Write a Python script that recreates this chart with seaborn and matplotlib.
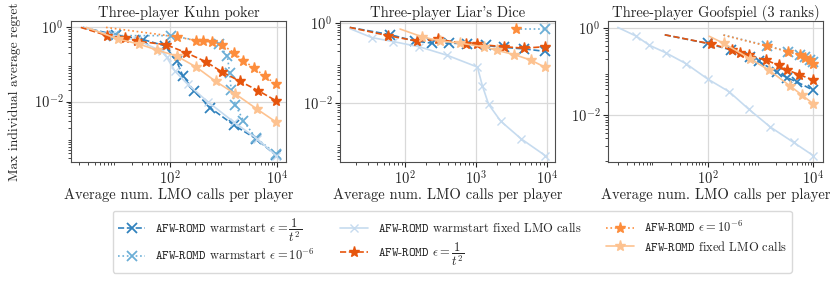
import numpy as np
import matplotlib
matplotlib.use("Agg")
import matplotlib.pyplot as plt
import seaborn as sns

# ---- data ----
titles = ["Three-player Kuhn poker", "Three-player Liar's Dice", "Three-player Goofspiel (3 ranks)"]

# Kuhn poker
kuhn_ws_t2_x = [2.4, 10, 32, 81, 135, 178, 290, 575, 1600, 4100, 9600]
kuhn_ws_t2_y = [1.0, 0.63, 0.47, 0.32, 0.126, 0.048, 0.019, 0.0068, 0.0023, 0.001, 0.00036]
kuhn_ws_e6_x = [2.4, 9.3, 105, 830, 1200, 1320, 1410, 1700, 2400, 4070, 9800]
kuhn_ws_e6_y = [1.0, 0.6, 0.6, 0.35, 0.166, 0.06, 0.021, 0.0081, 0.003, 0.00105, 0.00039]
kuhn_ws_fix_x = [2.4, 7.9, 25, 71, 89, 126, 219, 513, 1585, 4270, 9800]
kuhn_ws_fix_y = [1.0, 0.63, 0.45, 0.23, 0.155, 0.066, 0.029, 0.01, 0.0028, 0.001, 0.00035]
kuhn_t2_x = [2.2, 6.9, 14.5, 24.5, 87, 200, 470, 955, 2090, 4570, 9800]
kuhn_t2_y = [1.0, 0.6, 0.52, 0.43, 0.34, 0.21, 0.12, 0.063, 0.035, 0.0195, 0.0105]
kuhn_e6_x = [6.5, 135, 316, 417, 630, 955, 1585, 2400, 3800, 6000, 9800]
kuhn_e6_y = [1.0, 0.56, 0.44, 0.43, 0.4, 0.34, 0.21, 0.126, 0.081, 0.048, 0.029]
kuhn_fix_x = [2.8, 10.7, 27, 58, 135, 316, 725, 1700, 4270, 9800]
kuhn_fix_y = [1.0, 0.49, 0.355, 0.245, 0.17, 0.085, 0.035, 0.016, 0.0063, 0.0028]

# Liar's dice
dice_ws_t2_x = [16.6, 62, 138, 240, 417, 760, 1380, 2510, 4790, 9300]
dice_ws_t2_y = [0.79, 0.52, 0.36, 0.32, 0.32, 0.31, 0.28, 0.25, 0.23, 0.2]
dice_ws_e6_x = [3630, 9300]
dice_ws_e6_y = [0.74, 0.74]
dice_ws_fix_x = [16.6, 34, 68, 158, 390, 1050, 1230, 1510, 2240, 4370, 9500]
dice_ws_fix_y = [0.74, 0.44, 0.35, 0.26, 0.16, 0.081, 0.028, 0.0095, 0.0036, 0.0013, 0.0005]
dice_t2_x = [16.6, 58, 148, 290, 725, 1050, 2510, 4790, 9300]
dice_t2_y = [0.79, 0.49, 0.36, 0.4, 0.31, 0.3, 0.26, 0.24, 0.26]
dice_e6_x = [3630]
dice_e6_y = [0.74]
dice_fix_x = [85, 174, 316, 600, 1290, 2000, 3470, 6000, 9300]
dice_fix_y = [0.72, 0.46, 0.36, 0.32, 0.26, 0.21, 0.166, 0.12, 0.081]

# Goofspiel
goof_ws_t2_x = [15.5, 100, 275, 645, 930, 2040, 3160, 4900, 10000]
goof_ws_t2_y = [0.71, 0.45, 0.32, 0.224, 0.174, 0.1, 0.074, 0.059, 0.038]
goof_ws_e6_x = [200, 1350, 3390, 5500, 7080, 8710, 10000]
goof_ws_e6_y = [0.7, 0.4, 0.29, 0.25, 0.22, 0.19, 0.165]
goof_ws_fix_x = [2.0, 4.5, 7.9, 16.2, 39, 100, 257, 600, 1550, 4270, 10000]
goof_ws_fix_y = [1.05, 0.66, 0.41, 0.275, 0.155, 0.069, 0.035, 0.014, 0.0054, 0.0024, 0.0012]
goof_t2_x = [15.5, 115, 295, 407, 600, 1290, 2240, 3160, 5370, 10000]
goof_t2_y = [0.71, 0.44, 0.32, 0.275, 0.24, 0.186, 0.141, 0.112, 0.087, 0.065]
goof_e6_x = [200, 1350, 3390, 5500, 7080, 8710, 10000]
goof_e6_y = [0.7, 0.39, 0.29, 0.24, 0.214, 0.186, 0.155]
goof_fix_x = [107, 204, 645, 1450, 3700, 6200, 10000]
goof_fix_y = [0.66, 0.45, 0.2, 0.11, 0.047, 0.029, 0.0186]

panels = [
    {"ws_t2": (kuhn_ws_t2_x, kuhn_ws_t2_y), "ws_e6": (kuhn_ws_e6_x, kuhn_ws_e6_y),
     "ws_fix": (kuhn_ws_fix_x, kuhn_ws_fix_y), "t2": (kuhn_t2_x, kuhn_t2_y),
     "e6": (kuhn_e6_x, kuhn_e6_y), "fix": (kuhn_fix_x, kuhn_fix_y)},
    {"ws_t2": (dice_ws_t2_x, dice_ws_t2_y), "ws_e6": (dice_ws_e6_x, dice_ws_e6_y),
     "ws_fix": (dice_ws_fix_x, dice_ws_fix_y), "t2": (dice_t2_x, dice_t2_y),
     "e6": (dice_e6_x, dice_e6_y), "fix": (dice_fix_x, dice_fix_y)},
    {"ws_t2": (goof_ws_t2_x, goof_ws_t2_y), "ws_e6": (goof_ws_e6_x, goof_ws_e6_y),
     "ws_fix": (goof_ws_fix_x, goof_ws_fix_y), "t2": (goof_t2_x, goof_t2_y),
     "e6": (goof_e6_x, goof_e6_y), "fix": (goof_fix_x, goof_fix_y)},
]
xticks = [[1e2, 1e4], [1e2, 1e3, 1e4], [1e2, 1e4]]

afw = r"$\mathtt{AFW}$-$\mathtt{ROMD}$"
labels = {
    "ws_t2": afw + r" warmstart $\epsilon = \dfrac{1}{t^2}$",
    "ws_e6": afw + r" warmstart $\epsilon = 10^{-6}$",
    "ws_fix": afw + " warmstart fixed LMO calls",
    "t2": afw + r" $\epsilon = \dfrac{1}{t^2}$",
    "e6": afw + r" $\epsilon = 10^{-6}$",
    "fix": afw + " fixed LMO calls",
}
styles = {
    "ws_t2": dict(color="#3182bd", ls="--", marker="x", ms=6.5, mew=1.3),
    "ws_e6": dict(color="#6baed6", ls=":", marker="x", ms=6.5, mew=1.3),
    "ws_fix": dict(color="#c6dbef", ls="-", marker="x", ms=5.5, mew=1.0),
    "t2": dict(color="#e6550d", ls="--", marker="*", ms=8, mew=1.0),
    "e6": dict(color="#fd8d3c", ls=":", marker="*", ms=8, mew=1.0),
    "fix": dict(color="#fdc290", ls="-", marker="*", ms=8, mew=1.0),
}
order = ["ws_t2", "ws_e6", "ws_fix", "t2", "e6", "fix"]

# ---- style ----
sns.set_style("ticks", {"axes.grid": True, "grid.color": ".85", "axes.edgecolor": ".3"})
plt.rcParams["font.family"] = ["cmr10", "DejaVu Serif"]
plt.rcParams["mathtext.fontset"] = "cm"
plt.rcParams["axes.formatter.use_mathtext"] = True
plt.rcParams["axes.unicode_minus"] = False
plt.rcParams["font.size"] = 10.5
plt.rcParams["xtick.major.size"] = 3.5
plt.rcParams["ytick.major.size"] = 3.5
plt.rcParams["xtick.minor.size"] = 2
plt.rcParams["ytick.minor.size"] = 2

fig = plt.figure(figsize=(8.3, 2.82), dpi=100)
lefts = [71, 340, 608]
axes = [fig.add_axes([l / 830, 1 - 162 / 282, 215 / 830, 141 / 282]) for l in lefts]

for i, ax in enumerate(axes):
    ax.set_xscale("log")
    ax.set_yscale("log")
    for key in order:
        x, y = panels[i][key]
        st = styles[key]
        sns.lineplot(x=x, y=y, ax=ax, color=st["color"], linestyle=st["ls"],
                     marker=st["marker"], markersize=st["ms"], markeredgewidth=st["mew"],
                     markeredgecolor=st["color"], linewidth=1.2, label=labels[key],
                     markevery=(slice(1, None) if len(x) > 1 else None),
                     estimator=None, sort=False)
    ax.set_xticks(xticks[i])
    ax.set_yticks([1e0, 1e-2])
    ax.grid(True, which="major", color=".85", linewidth=0.9)
    ax.grid(False, which="minor")
    ax.set_title(titles[i], fontsize=10.5, pad=3)
    ax.set_xlabel("Average num. LMO calls per player", fontsize=10.5, labelpad=0)
    ax.tick_params(labelsize=10.5, pad=2)
    if ax.get_legend() is not None:
        ax.get_legend().remove()
axes[0].set_ylabel("Max individual average regret", fontsize=9.8, labelpad=9)

handles, labs = axes[0].get_legend_handles_labels()
fig.legend(handles, labs, loc="upper center", bbox_to_anchor=(0.545, 0.252), ncol=3,
           fontsize=9, handlelength=2.2, handletextpad=0.8, columnspacing=2.0,
           borderpad=0.4, labelspacing=0.35, borderaxespad=0,
           frameon=True, edgecolor=".85", framealpha=1)

fig.savefig("out.png", dpi=100)
